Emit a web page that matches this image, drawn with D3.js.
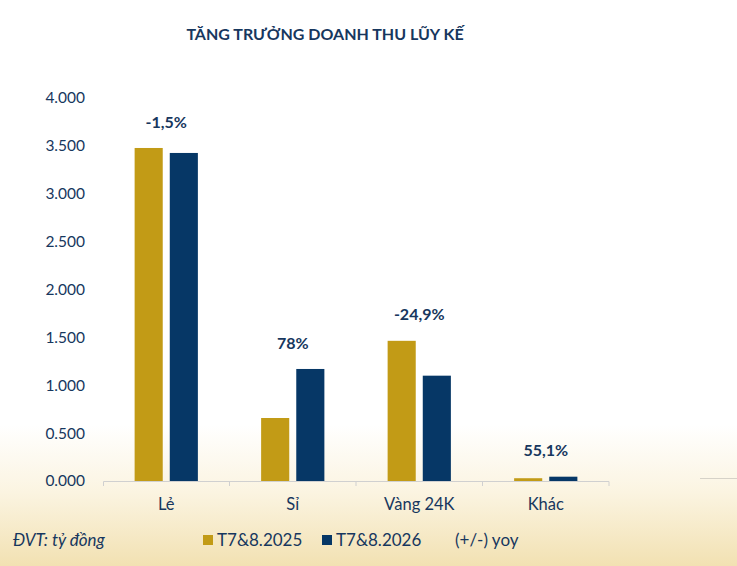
<!DOCTYPE html>
<html>
<head>
<meta charset="utf-8">
<script src="https://cdn.jsdelivr.net/npm/d3@7"></script>
<style>
  body { margin: 0; background: #fff; }
  #chart svg { display: block; }
</style>
</head>
<body>
<div id="chart"></div>
<script>
// values (tỷ đồng)
const categories = ["Lẻ", "Sỉ", "Vàng 24K", "Khác"];
const seriesNames = ["T7&8.2025", "T7&8.2026"];
const values2025 = [3478, 658, 1464, 29];
const values2026 = [3426, 1170, 1100, 45];
const yoyLabels = ["-1,5%", "78%", "-24,9%", "55,1%"];
const yTicks = [0, 500, 1000, 1500, 2000, 2500, 3000, 3500, 4000];

const W = 737, H = 566;
const margin = { top: 98, right: 128, bottom: 85, left: 103 };
const width = W - margin.left - margin.right;
const height = H - margin.top - margin.bottom;

const gold = "#c29b16", navy = "#063766", textCol = "#17375e";
const font = "Lato, 'Noto Sans', sans-serif";

const svg = d3.select("#chart").append("svg")
  .attr("width", W).attr("height", H)
  .style("font-family", font);

// cream fade at the bottom
const grad = svg.append("defs").append("linearGradient")
  .attr("id", "bg").attr("x1", 0).attr("y1", 0).attr("x2", 0).attr("y2", 1);
grad.append("stop").attr("offset", "0.75").attr("stop-color", "#ffffff");
grad.append("stop").attr("offset", "0.87").attr("stop-color", "#fbf4e1");
grad.append("stop").attr("offset", "1").attr("stop-color", "#f2e1b2");
svg.append("rect").attr("width", W).attr("height", H).attr("fill", "url(#bg)");

// title
svg.append("text")
  .attr("x", 325).attr("y", 40)
  .attr("text-anchor", "middle")
  .attr("fill", textCol)
  .style("font-size", "16px").style("font-weight", 700)
  .text("TĂNG TRƯỞNG DOANH THU LŨY KẾ");

const g = svg.append("g")
  .attr("transform", `translate(${margin.left},${margin.top})`);

const data = categories.map((c, i) => ({
  cat: c, vals: [values2025[i], values2026[i]], label: yoyLabels[i]
}));

const x0 = d3.scaleBand().domain(categories).range([0, width]);
const x1 = d3.scaleBand().domain(seriesNames)
  .range([x0.bandwidth() * 0.25, x0.bandwidth() * 0.75])
  .paddingInner(0.2);
const y = d3.scaleLinear().domain([0, 4000]).range([height, 0]);
const color = d3.scaleOrdinal().domain(seriesNames).range([gold, navy]);

// y axis: labels only
const yAxis = g.append("g")
  .call(d3.axisLeft(y).tickValues(yTicks).tickSize(0).tickPadding(18)
    .tickFormat(d => d3.format(".3f")(d / 1000)));
yAxis.select(".domain").remove();
yAxis.selectAll("text")
  .attr("fill", textCol).style("font-size", "15.5px").style("font-family", font);

// x axis with separators between categories
const xAxis = g.append("g")
  .attr("transform", `translate(0,${height})`)
  .call(d3.axisBottom(x0).tickSize(0).tickPadding(17));
xAxis.select(".domain").attr("stroke", "#d0d0d0").attr("d", `M0.5,5V0.5H${width}V5`);
xAxis.selectAll("text")
  .attr("fill", textCol).style("font-size", "16.5px").style("font-family", font);
xAxis.selectAll(".sep")
  .data(categories.slice(1))
  .join("line")
  .attr("class", "sep")
  .attr("x1", d => x0(d)).attr("x2", d => x0(d))
  .attr("y1", 0).attr("y2", 5)
  .attr("stroke", "#d0d0d0");
// faint continuation at the right edge
svg.append("line")
  .attr("x1", 700).attr("x2", W).attr("y1", 478.5).attr("y2", 478.5)
  .attr("stroke", "#d6d2c8");

// bars
const groups = g.selectAll(".grp")
  .data(data)
  .join("g")
  .attr("class", "grp")
  .attr("transform", d => `translate(${x0(d.cat)},0)`);

groups.selectAll("rect")
  .data(d => d.vals.map((v, i) => ({ key: seriesNames[i], v })))
  .join("rect")
  .attr("x", d => x1(d.key))
  .attr("y", d => y(d.v))
  .attr("width", x1.bandwidth())
  .attr("height", d => y(0) - y(d.v))
  .attr("fill", d => color(d.key));

// yoy labels
groups.append("text")
  .attr("x", x0.bandwidth() / 2)
  .attr("y", d => y(d3.max(d.vals)) - 26)
  .attr("dy", "0.35em")
  .attr("text-anchor", "middle")
  .attr("fill", textCol)
  .style("font-size", "16px").style("font-weight", 700)
  .text(d => d.label);

// footer: unit + legend
svg.append("text")
  .attr("x", 13).attr("y", 546)
  .attr("fill", textCol)
  .style("font-size", "17px").style("font-style", "italic")
  .text("ĐVT: tỷ đồng");

const legendItems = [
  { name: seriesNames[0], color: gold, x: 203 },
  { name: seriesNames[1], color: navy, x: 322 },
  { name: "(+/-) yoy", color: null, x: 455 }
];
const leg = svg.selectAll(".leg")
  .data(legendItems)
  .join("g")
  .attr("class", "leg")
  .attr("transform", d => `translate(${d.x},0)`);
leg.filter(d => d.color)
  .append("rect")
  .attr("x", 0).attr("y", 535).attr("width", 10).attr("height", 10)
  .attr("fill", d => d.color);
leg.append("text")
  .attr("x", d => d.color ? 14 : 0).attr("y", 546)
  .attr("fill", textCol)
  .style("font-size", "17px")
  .text(d => d.name);
</script>
</body>
</html>
